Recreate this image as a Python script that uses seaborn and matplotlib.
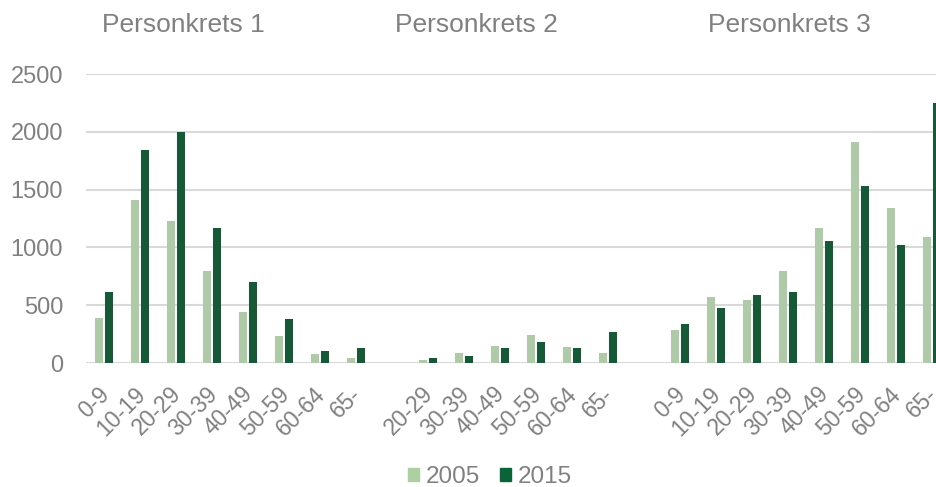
import matplotlib
matplotlib.use("Agg")
import matplotlib.pyplot as plt
import matplotlib.transforms as mtransforms
from matplotlib.patches import Patch
import pandas as pd
import seaborn as sns

# age bands per group
ages_1 = ["0-9", "10-19", "20-29", "30-39", "40-49", "50-59", "60-64", "65-"]
ages_2 = ["20-29", "30-39", "40-49", "50-59", "60-64", "65-"]
ages_3 = ["0-9", "10-19", "20-29", "30-39", "40-49", "50-59", "60-64", "65-"]

# values
krets1_2005 = [390, 1410, 1230, 800, 440, 230, 75, 40]
krets1_2015 = [615, 1840, 2000, 1170, 700, 380, 100, 126]
krets2_2005 = [26, 89, 150, 245, 135, 89]
krets2_2015 = [40, 57, 126, 181, 126, 270]
krets3_2005 = [288, 573, 541, 798, 1169, 1910, 1340, 1089]
krets3_2015 = [337, 478, 590, 616, 1054, 1532, 1025, 2247]

titles = ["Personkrets 1", "Personkrets 2", "Personkrets 3"]
years = ["2005", "2015"]
light = "#acd0a1"
dark = "#0a6437"
grey = "#808080"

rows = []
order = []
labels = []
groups = [(ages_1, krets1_2005, krets1_2015),
          (ages_2, krets2_2005, krets2_2015),
          (ages_3, krets3_2005, krets3_2015)]
for g, (ages, v05, v15) in enumerate(groups):
    if g > 0:
        order.append(f"gap{g}")
        labels.append("")
    for a, a05, a15 in zip(ages, v05, v15):
        key = f"{g}:{a}"
        order.append(key)
        labels.append(a)
        rows.append({"key": key, "year": "2005", "value": a05})
        rows.append({"key": key, "year": "2015", "value": a15})
df = pd.DataFrame(rows)

sns.set_style("white")
plt.rcParams["font.family"] = ["Liberation Sans", "DejaVu Sans"]

fig = plt.figure(figsize=(9.37, 4.87), dpi=100)
ax = fig.add_axes([0.0918, 0.2546, 0.9082, 0.5934])

sns.barplot(data=df, x="key", y="value", hue="year", order=order,
            hue_order=years, palette=[light, dark], width=0.55, gap=0.2,
            linewidth=0, legend=False, ax=ax)

ax.set_ylim(0, 2500)
ax.set_xlim(-0.5, 23.14)
ax.set_yticks([0, 500, 1000, 1500, 2000, 2500])
ax.yaxis.grid(True, color="#d9d9d9", linewidth=1.5)
ax.set_axisbelow(True)
for s in ax.spines.values():
    s.set_visible(False)
ax.set_xlabel("")
ax.set_ylabel("")
ax.set_xticks(range(len(order)))
ax.set_xticklabels(labels, rotation=45, ha="right", va="top",
                   rotation_mode="anchor")
ax.tick_params(axis="x", length=0, pad=14, labelsize=16.5, labelcolor=grey)
ax.tick_params(axis="y", length=0, pad=16.5, labelsize=17, labelcolor=grey)

# nudge the rotated labels so their ends sit just right of the bar pairs
shift = mtransforms.ScaledTranslation(-0.065, 0, fig.dpi_scale_trans)
for lab in ax.get_xticklabels():
    lab.set_transform(lab.get_transform() + shift)

for t, xf in zip(titles, [0.196, 0.508, 0.842]):
    fig.text(xf, 0.949, t, ha="center", va="center", fontsize=19, color=grey)

handles = [Patch(color=light, label="2005"), Patch(color=dark, label="2015")]
leg = fig.legend(handles=handles, loc="center", bbox_to_anchor=(0.523, 0.02),
                 ncol=2, frameon=False, fontsize=17.5, handlelength=0.45,
                 handleheight=0.45, handletextpad=0.3, columnspacing=0.8)
for txt in leg.get_texts():
    txt.set_color(grey)

fig.savefig("out.png", dpi=100)
